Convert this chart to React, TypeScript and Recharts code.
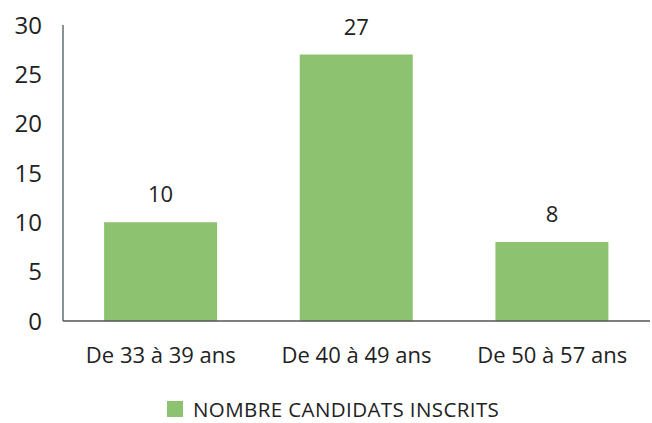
import React from "react";
import { BarChart, Bar, XAxis, YAxis, Legend, LabelList } from "recharts";

const categories = ["De 33 à 39 ans", "De 40 à 49 ans", "De 50 à 57 ans"];
const values = [10, 27, 8];
const yTicks = [0, 5, 10, 15, 20, 25, 30];
const seriesName = "NOMBRE CANDIDATS INSCRITS";

const data = categories.map((c, i) => ({ name: c, value: values[i] }));

const FONT = "'Open Sans', sans-serif";
const GREEN = "#8dc370";

const LegendContent = () => (
  <div
    style={{
      display: "flex",
      alignItems: "center",
      width: 420,
      height: 28,
      fontFamily: FONT,
      fontSize: 20.5,
      letterSpacing: 0.4,
      color: "#222",
      whiteSpace: "nowrap",
    }}
  >
    <span style={{ display: "inline-block", width: 16, height: 16, background: GREEN, marginRight: 10, flex: "none" }} />
    <span style={{ lineHeight: "28px", flex: "none" }}>{seriesName}</span>
  </div>
);

export default function App() {
  return (
    <div style={{ position: "absolute", left: 0, top: 0, width: 652, height: 423, background: "#fff" }}>
      <BarChart
        width={652}
        height={423}
        data={data}
        margin={{ top: 25, right: 2, left: 0, bottom: 0 }}
        barCategoryGap="21%"
      >
        <YAxis
          domain={[0, 30]}
          ticks={yTicks}
          width={63}
          tickSize={0}
          tickMargin={21}
          tickLine={false}
          axisLine={{ stroke: "#5f6e70", strokeWidth: 1.5 }}
          tick={{ fontFamily: FONT, fontSize: 24, fill: "#222" }}
          interval={0}
        />
        <XAxis
          dataKey="name"
          height={74}
          tickSize={0}
          tickMargin={26}
          tickLine={false}
          axisLine={{ stroke: "#555", strokeWidth: 1.5 }}
          tick={{ fontFamily: FONT, fontSize: 22, fill: "#222" }}
          interval={0}
        />
        <Legend
          content={<LegendContent />}
          wrapperStyle={{ position: "absolute", left: 167, top: 395, width: 420, height: 28 }}
        />
        <Bar dataKey="value" name={seriesName} fill={GREEN} isAnimationActive={false}>
          <LabelList
            dataKey="value"
            position="top"
            offset={20}
            style={{ fontFamily: FONT, fontSize: 22, fill: "#222" }}
          />
        </Bar>
      </BarChart>
    </div>
  );
}
